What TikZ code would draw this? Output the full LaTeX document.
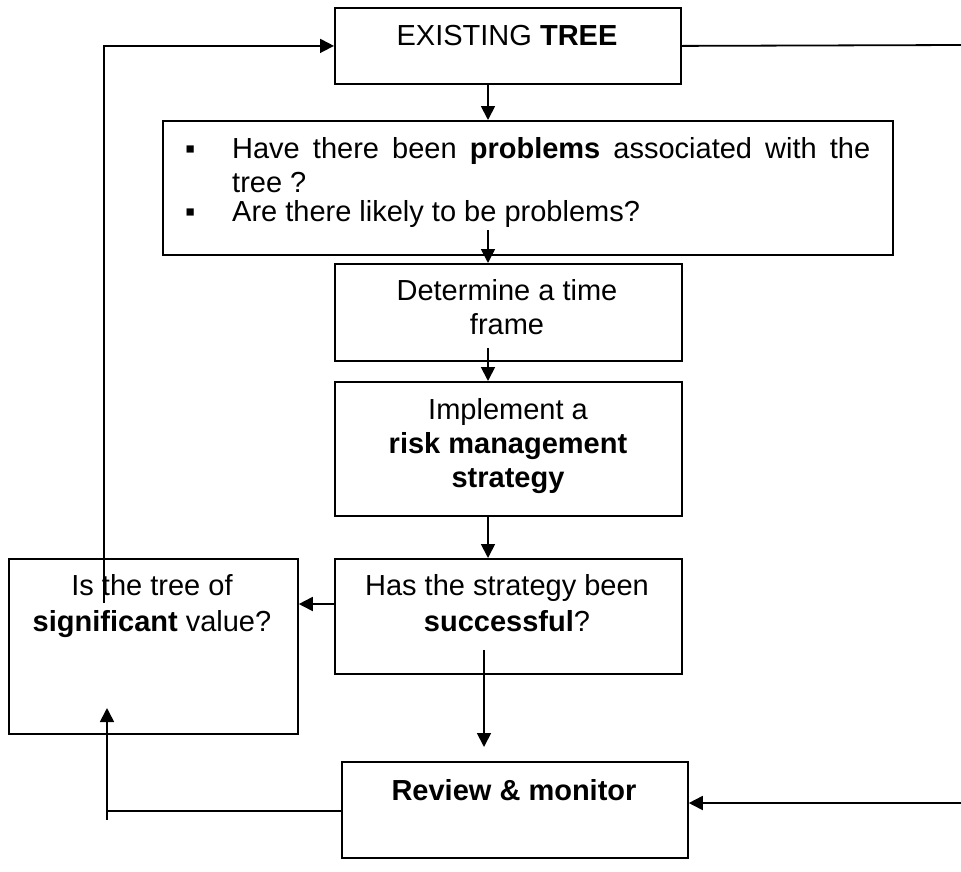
\documentclass[tikz,border=0pt]{standalone}
\usepackage{fontspec}
\setmainfont{Liberation Sans}
\usetikzlibrary{arrows.meta}
\newcommand{\lineup}{\rule{0pt}{24pt}}
\begin{document}
\begin{tikzpicture}[x=1pt,y=-1pt,
        font=\fontsize{29}{34}\selectfont,
        box/.style={draw,line width=1.8pt,inner sep=0pt,anchor=north west},
        txt/.style={inner sep=0pt,anchor=north,align=center},
        arr/.style={line width=1.8pt,-{Triangle[length=14pt,width=14pt]}},
        ln/.style={line width=1.8pt}]
        \useasboundingbox (0,0) rectangle (961,871);
        \node[box,minimum width=346pt,minimum height=76pt] (ext) at (334,7) {};
        \node[box,minimum width=730pt,minimum height=134pt] (prob) at (162,120) {};
        \node[box,minimum width=347pt,minimum height=97pt] (time) at (334,263) {};
        \node[box,minimum width=347pt,minimum height=134pt] (impl) at (334,381) {};
        \node[box,minimum width=347pt,minimum height=115pt] (has) at (334,558) {};
        \node[box,minimum width=289pt,minimum height=175pt] (sig) at (8,558) {};
        \node[box,minimum width=346pt,minimum height=96pt] (rev) at (341,761) {};
        \node[txt] (extT) at (507,21) {\lineup EXISTING \textbf{TREE}};
        \node[inner sep=0pt,anchor=north west,text width=638pt,align=justify] (probT) at (232,134)
            {\noindent\llap{\makebox[47pt][l]{▪}}\lineup Have there been \textbf{problems} associated with the tree ?\par
             \vspace{-5pt}\noindent\llap{\makebox[47pt][l]{▪}}Are there likely to be problems?};
        \node[txt] (timeT) at (507,276) {\lineup Determine a time\\frame};
        \node[txt] (implT) at (508,395) {\lineup Implement a\\\textbf{risk management}\\\textbf{strategy}};
        \node[txt] (hasT) at (507,571) {\lineup Has the strategy been\\[2pt]\textbf{successful}?};
        \node[txt] (sigT) at (152,571) {\lineup Is the tree of\\[2pt]\textbf{significant} value?};
        \node[txt] (revT) at (514,776) {\lineup\textbf{Review \& monitor}};
        \coordinate (spine) at (488,0);
        \coordinate (p1) at (488,230);
        \coordinate (p2) at (488,348);
        \coordinate (q) at (0,604);
        \coordinate (s1) at (484,650);
        \coordinate (s2) at (484,747);
        \coordinate (b0) at (107,820);
        \coordinate (b1) at (107,811);
        \coordinate (b2) at (107,708);
        \coordinate (t0) at (104,603);
        \coordinate (e1) at (961,45);
        \coordinate (e2) at (961,803);
        \draw[arr] (ext.south -| spine) -- (prob.north -| spine);
        \draw[arr] (p1) -- (time.north -| p1);
        \draw[arr] (p2) -- (impl.north -| p2);
        \draw[arr] (impl.south -| spine) -- (has.north -| spine);
        \draw[arr] (has.west |- q) -- (sig.east |- q);
        \draw[arr] (s1) -- (s2);
        \draw[ln] (rev.west |- b1) -- (b1);
        \draw[arr] (b0) -- (b2);
        \draw[arr] (t0) |- (ext.west);
        \draw[ln] (ext.east) -- (e1);
        \draw[arr] (e2) -- (rev.east |- e2);
    \end{tikzpicture}
\end{document}
